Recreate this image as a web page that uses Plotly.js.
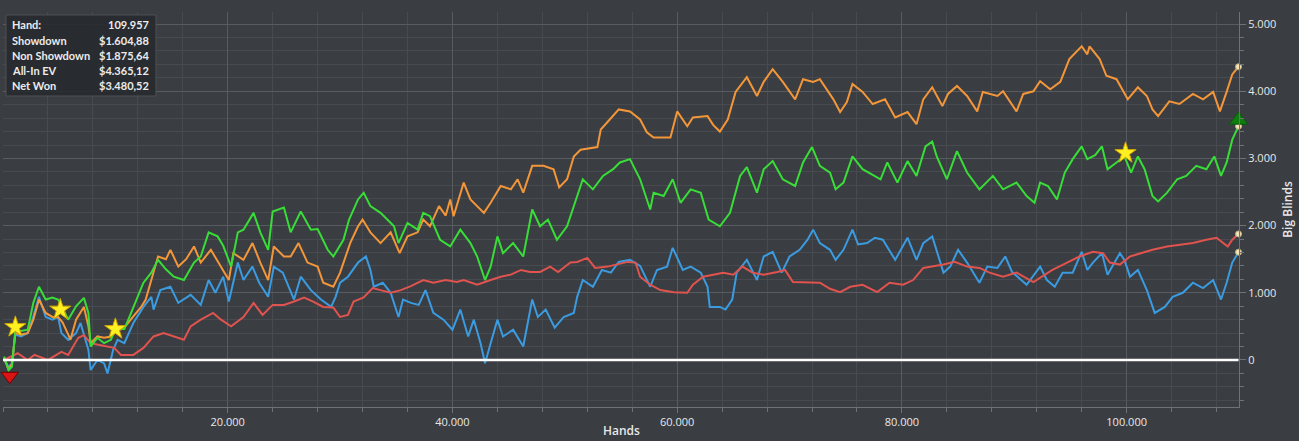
<!DOCTYPE html>
<html>
<head>
<meta charset="utf-8">
<script src="https://cdn.plot.ly/plotly-3.0.1.min.js"></script>
<style>
  html, body { margin: 0; padding: 0; background: #3a3d41; }
  #chart { width: 1299px; height: 441px; }
</style>
</head>
<body>
<div id="chart"></div>
<script>
// ---------- DATA ----------
// Net Won (green)
const netWonHands = [
  100,500,800,1100,1600,2200,2700,3200,3800,4400,
  4900,5300,5800,6500,7200,7600,7800,8400,9000,9600,
  10000,10800,11400,12000,12500,13200,13800,14500,15200,16100,
  17000,17600,18300,19100,19600,20300,20900,21400,22300,22900,
  23600,24000,25000,25600,26500,27400,28000,28900,29400,30300,
  30800,31600,32100,32700,33600,34200,34800,35200,36000,36900,
  37400,38000,38900,39800,40700,41600,42200,42900,43400,44000,
  44500,45400,46300,47100,47800,48500,49300,50200,50800,51600,
  52500,53400,54300,54900,55800,56700,57600,57900,58800,59600,
  60300,61200,62100,62800,63800,64700,65600,66200,67100,67700,
  68500,69400,70500,71200,72000,72700,73600,74100,74800,75600,
  76500,78100,78700,79600,80500,81300,82100,82700,83100,84000,
  84900,85800,86900,88100,89000,90200,91100,91800,92300,93000,
  93800,94500,95200,96000,96500,97200,97800,98300,99100,99800,
  100400,101000,101600,102300,102800,103600,104500,105300,106200,107100,
  107800,108400,108900,109400,109957
];
const netWonBB = [
  50,-150,-100,450,430,450,850,1090,900,930,
  900,780,600,800,925,700,200,330,250,300,
  460,460,700,950,1150,1300,1490,1350,1240,1190,
  1450,1540,1900,1840,1700,1390,1900,1940,2190,1900,
  1640,2210,2270,1900,2210,1940,1950,1640,1540,1790,
  2090,2390,2490,2290,2190,2090,1990,1740,2040,1940,
  2190,2140,1790,1690,1940,1740,1540,1190,1390,1840,
  1590,1740,1540,2240,1990,2090,1790,1990,2290,2690,
  2540,2740,2840,2940,2990,2690,2240,2490,2440,2690,
  2340,2540,2490,2090,1990,2190,2740,2870,2490,2840,
  2960,2690,2590,2940,3170,2890,2790,2540,2640,3030,
  2840,2690,2940,2640,2960,2740,3180,3250,3030,2690,
  3110,2790,2540,2740,2540,2640,2440,2340,2640,2590,
  2390,2790,2990,3180,2990,3050,3180,2840,2940,3030,
  2790,3030,2840,2440,2360,2490,2690,2740,2890,2840,
  3030,2740,2940,3280,3480
];

// All-In EV (orange)
const allInEvHands = [
  100,500,800,1100,1600,2200,2700,3200,3800,4400,
  4900,5300,5800,6000,6500,7200,7600,7800,8400,9000,
  9600,10000,10800,11100,11600,12300,12700,13200,13800,14500,
  14900,15600,16300,17000,17600,18500,19400,20100,20500,21400,
  22200,22900,23600,24100,25000,25600,26300,27100,28000,28500,
  29400,30000,30900,31600,32000,32700,33600,34500,35300,36000,
  36900,37400,38000,38800,39400,39800,40100,41000,41600,42800,
  43400,44300,45200,45800,46300,47100,48100,49000,49500,50200,
  50800,51400,52900,53200,54000,54800,55800,56700,57300,57900,
  59400,60000,60900,61400,62700,63200,63800,64500,65200,66200,
  67100,67700,68500,69400,70500,71200,72100,72700,73900,74500,
  75100,75600,76500,77400,78500,79400,80500,81300,81900,82700,
  83600,84100,84900,85800,86700,87200,88500,89000,90200,90800,
  91700,92300,93200,94100,94900,96000,96500,96700,97600,98200,
  99100,100100,101000,101800,102300,102800,103800,104700,105900,106800,
  107700,108300,108900,109400,109957
];
const allInEvBB = [
  30,-150,-50,400,380,400,600,900,700,640,
  640,560,380,300,600,790,500,250,350,330,
  350,420,480,550,650,790,900,1190,1540,1500,
  1640,1390,1500,1690,1450,1640,1390,1190,1590,1490,
  1740,1450,1190,1690,1540,1540,1740,1450,1390,1150,
  1090,1300,1740,1990,2090,1900,1740,1900,1590,1840,
  1900,2090,1990,2290,2150,2390,2140,2640,2390,2190,
  2340,2590,2540,2690,2490,2890,2890,2840,2570,2690,
  3030,3130,3170,3430,3580,3730,3700,3580,3390,3310,
  3310,3700,3480,3610,3630,3500,3400,3580,3990,4210,
  3930,4140,4330,4140,3880,4180,4140,4180,3880,3690,
  3840,4110,3990,3810,3880,3610,3690,3510,3880,4060,
  3780,3960,4080,3930,3700,3990,3930,4000,3700,3960,
  4000,4150,4030,4140,4480,4670,4550,4670,4480,4230,
  4180,3880,4060,3930,3730,3630,3850,3810,3960,3880,
  3990,3700,3990,4250,4365
];

// Showdown (blue)
const showdownHands = [
  100,500,800,1100,1600,2200,2700,3200,3800,4400,
  4900,5200,5800,6500,6900,7600,7800,8400,9000,9300,
  9800,10200,10800,11600,12500,13200,13400,14000,14900,15600,
  16700,17600,18300,18900,19600,20100,20900,21400,22200,22800,
  23600,24100,24900,25900,26500,27400,28300,29200,29600,30000,
  30700,31600,32300,32700,33000,33800,34500,35200,35600,36300,
  37000,37600,38300,39200,40000,40700,41400,41900,42500,42900,
  43400,44000,44500,45400,46300,47100,47600,48300,49100,49900,
  50800,51100,51600,52500,53300,54100,54800,55800,56700,57600,
  58200,59100,59600,60500,61200,62100,62700,62900,63800,64300,
  64900,65300,66200,67100,67700,68500,69300,70000,70900,71600,
  72100,72700,73600,74100,74800,75600,76100,76900,77600,78300,
  79400,80500,81300,81900,82700,83700,84300,85000,85800,86900,
  87600,88500,89200,89800,91100,92300,92900,93600,94300,95200,
  96000,96500,97000,97800,98300,98900,99400,99800,100300,101000,
  101800,102500,103400,104100,105000,105900,106800,107700,108400,108900,
  109400,109957
];
const showdownBB = [
  0,-100,-50,380,350,400,650,940,640,600,
  640,400,300,400,550,150,-150,0,-50,-200,
  150,300,250,550,790,940,750,1040,1090,850,
  970,820,1190,1000,1240,870,1450,1190,1390,1150,
  940,1390,1300,900,1240,1040,900,790,940,1150,
  1240,1450,1540,1340,1090,1150,1000,640,900,850,
  820,1040,700,600,450,750,350,600,250,-50,
  250,600,350,450,200,900,640,750,480,640,
  700,940,1190,1090,1340,1300,1460,1490,1400,1090,
  1340,1390,1670,1340,1390,1300,1090,790,790,750,
  900,1300,1490,1190,1540,1610,1300,1540,1640,1790,
  1940,1740,1640,1490,1640,1940,1720,1740,1820,1790,
  1490,1820,1490,1740,1840,1300,1390,1640,1450,1150,
  1390,1370,1540,1310,1120,1390,1190,1090,1300,1300,
  1610,1340,1450,1590,1270,1450,1590,1490,1240,1340,
  1040,700,790,940,1000,1150,1070,1190,900,1150,
  1450,1605
];

// Non Showdown (red)
const nonShowdownHands = [
  100,1300,2200,2800,4000,5200,5800,6700,7200,7800,
  8700,9900,10500,11600,12500,13400,14300,15200,16100,16700,
  17600,18700,19400,20300,21400,22300,23100,24000,25000,25900,
  26800,27600,28500,29400,30000,30700,31200,32100,32900,33600,
  34500,35400,36300,37400,38300,39400,40400,41000,42200,43400,
  44300,45200,46100,46900,47800,48700,49400,50500,51100,52000,
  52700,53800,54700,55600,56300,56700,57600,58500,59700,60900,
  61400,62300,63200,64100,65000,65800,66700,67700,68900,69600,
  70300,71600,72700,73600,74500,75400,76500,77800,78900,80100,
  81000,81900,82800,83700,84700,85800,86900,87800,89000,90200,
  91700,92500,93400,94700,95800,97000,97900,98500,99400,100300,
  101300,102300,103600,104800,105900,107100,108000,109000,109400,109957
];
const nonShowdownBB = [
  0,100,0,75,0,120,75,330,370,250,
  220,180,75,75,180,350,400,350,300,500,
  600,700,600,500,640,850,670,820,820,870,
  930,870,790,780,640,670,870,930,1070,1040,
  1000,1040,1100,1190,1150,1190,1160,1190,1120,1190,
  1240,1270,1340,1310,1310,1390,1310,1450,1460,1520,
  1370,1390,1420,1460,1450,1240,1120,1040,1010,1000,
  1120,1240,1270,1300,1270,1390,1300,1270,1310,1340,
  1160,1150,1150,1060,1010,1090,1120,1010,1150,1120,
  1190,1370,1390,1420,1460,1390,1370,1300,1240,1300,
  1160,1240,1340,1450,1540,1610,1590,1450,1420,1540,
  1590,1640,1690,1720,1740,1790,1820,1690,1790,1876
];

// Event markers
const starHands = [1100, 5100, 10000, 99900];
const starBB = [490, 750, 460, 3080];
const lowHands = [600];
const lowBB = [-240];
const highHands = [109957];
const highBB = [3570];

// Axis ticks
const xTickVals = [20000, 40000, 60000, 80000, 100000];
const xTickLabels = ['20.000', '40.000', '60.000', '80.000', '100.000'];
const yTickVals = [0, 1000, 2000, 3000, 4000, 5000];
const yTickLabels = ['0', '1.000', '2.000', '3.000', '4.000', '5.000'];

// Stats table
const statLabels = ['Hand:', 'Showdown', 'Non Showdown', 'All-In EV', 'Net Won'];
const statValues = ['109.957', '$1.604,88', '$1.875,64', '$4.365,12', '$3.480,52'];

// ---------- CHART ----------
const COLORS = {
  blue: '#3b9be0',
  red: '#e0534f',
  orange: '#f3963a',
  green: '#38dd38'
};

function lineTrace(x, y, color, name) {
  return {
    x: x, y: y, type: 'scatter', mode: 'lines', name: name,
    line: { color: color, width: 2 },
    hoverinfo: 'skip'
  };
}

const last = arr => arr[arr.length - 1];

const traces = [
  lineTrace(showdownHands, showdownBB, COLORS.blue, 'Showdown'),
  lineTrace(nonShowdownHands, nonShowdownBB, COLORS.red, 'Non Showdown'),
  lineTrace(allInEvHands, allInEvBB, COLORS.orange, 'All-In EV'),
  lineTrace(netWonHands, netWonBB, COLORS.green, 'Net Won'),
  {
    x: [last(showdownHands), last(nonShowdownHands), last(allInEvHands), last(netWonHands)],
    y: [last(showdownBB), last(nonShowdownBB), last(allInEvBB), last(netWonBB)],
    type: 'scatter', mode: 'markers', cliponaxis: false, hoverinfo: 'skip',
    marker: { size: 6, color: '#f4e3b5', line: { color: '#bfae86', width: 1 } }
  },
  {
    x: starHands, y: starBB, type: 'scatter', mode: 'markers', cliponaxis: false, hoverinfo: 'skip',
    marker: { symbol: 'star', size: 16, color: '#fff022', line: { color: '#d0a400', width: 1 } }
  },
  {
    x: lowHands, y: lowBB, type: 'scatter', mode: 'markers', cliponaxis: false, hoverinfo: 'skip',
    marker: { symbol: 'triangle-down', size: 15, color: '#d81414', line: { color: '#7a0000', width: 1 } }
  },
  {
    x: highHands, y: highBB, type: 'scatter', mode: 'markers', cliponaxis: false, hoverinfo: 'skip',
    marker: { symbol: 'triangle-up', size: 16, color: '#0f7d0f', line: { color: '#0a5a0a', width: 1 } }
  }
];

const PLOT_L = 3, PLOT_T = 12, PLOT_W = 1236, PLOT_H = 395;
const px2paperX = px => (px - PLOT_L) / PLOT_W;
const px2paperY = py => 1 - (py - PLOT_T) / PLOT_H;

const rowY = [25, 40.5, 55.5, 70.5, 85.5];
const tableFont = { family: 'Lato, sans-serif', size: 11, color: '#ececec', weight: 700 };
const annotations = [];
statLabels.forEach((lab, i) => {
  annotations.push({
    xref: 'paper', yref: 'paper', x: px2paperX(10), y: px2paperY(rowY[i]),
    xanchor: 'left', yanchor: 'middle', showarrow: false, text: lab, font: tableFont
  });
  annotations.push({
    xref: 'paper', yref: 'paper', x: px2paperX(151), y: px2paperY(rowY[i]),
    xanchor: 'right', yanchor: 'middle', showarrow: false, text: statValues[i], font: tableFont
  });
});
annotations.push({
  xref: 'paper', yref: 'paper', x: 0.5, y: px2paperY(441),
  xanchor: 'center', yanchor: 'bottom', showarrow: false, text: 'Hands',
  font: { family: 'Open Sans, sans-serif', size: 12, color: '#e8e8e8', weight: 600 }
});

const layout = {
  width: 1299, height: 441,
  paper_bgcolor: '#3a3d41', plot_bgcolor: '#3a3d41',
  margin: { l: PLOT_L, r: 1299 - PLOT_L - PLOT_W, t: PLOT_T, b: 441 - PLOT_T - PLOT_H },
  showlegend: false,
  font: { family: 'Open Sans, sans-serif', color: '#e6e6e6', size: 11 },
  xaxis: {
    range: [0, 110000],
    tickmode: 'array', tickvals: xTickVals, ticktext: xTickLabels,
    showgrid: true, gridcolor: '#585b5f', gridwidth: 1,
    ticks: 'outside', ticklen: 5, tickcolor: '#6e7175',
    showline: true, linecolor: '#6e7175', linewidth: 1,
    zeroline: false,
    minor: { tickmode: 'linear', tick0: 0, dtick: 4000, showgrid: true, gridcolor: '#474a4e', ticks: 'outside', ticklen: 4, tickcolor: '#6e7175' },
    tickfont: { size: 11, color: '#e8e8e8' },
    automargin: false, fixedrange: true
  },
  yaxis: {
    side: 'right',
    range: [-700, 5180],
    tickmode: 'array', tickvals: yTickVals, ticktext: yTickLabels,
    showgrid: true, gridcolor: '#585b5f', gridwidth: 1,
    ticks: 'outside', ticklen: 6, tickcolor: '#6e7175',
    showline: true, linecolor: '#6e7175', linewidth: 1,
    zeroline: false,
    minor: { tickmode: 'linear', tick0: 0, dtick: 200, showgrid: true, gridcolor: '#474a4e', ticks: 'outside', ticklen: 4, tickcolor: '#6e7175' },
    tickfont: { size: 11, color: '#e8e8e8' },
    title: { text: 'Big Blinds', standoff: 8, font: { size: 12, color: '#e8e8e8', weight: 600 } },
    automargin: false, fixedrange: true
  },
  shapes: [
    {
      type: 'line', xref: 'x', yref: 'y', x0: 0, x1: last(netWonHands), y0: 0, y1: 0,
      line: { color: '#ffffff', width: 2.5 }, layer: 'above'
    },
    {
      type: 'rect', xref: 'paper', yref: 'paper',
      x0: px2paperX(6), x1: px2paperX(156), y0: px2paperY(96), y1: px2paperY(15),
      fillcolor: 'rgba(38,41,44,0.88)', line: { color: '#4e5155', width: 1 }, layer: 'above'
    }
  ],
  annotations: annotations
};

Plotly.newPlot('chart', traces, layout, { displayModeBar: false, staticPlot: true });
</script>
</body>
</html>
